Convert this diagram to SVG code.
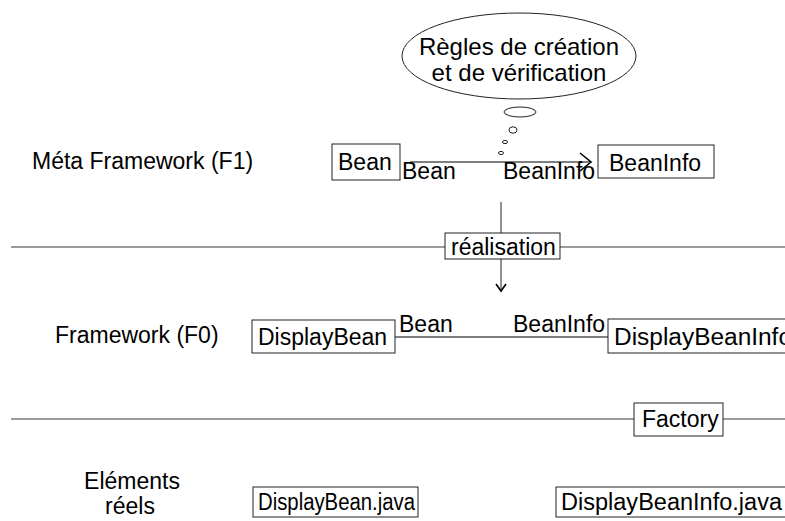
<svg xmlns="http://www.w3.org/2000/svg" width="785" height="521" viewBox="0 0 785 521">
<style>
text{font-family:"Liberation Sans",Arial,sans-serif;fill:#000;}
.t{font-size:23px;}
.b{font-size:24px;}
.box{fill:#fff;stroke:#222;stroke-width:1;}
.sep{stroke:#7a7a7a;stroke-width:1.6;fill:none;}
.con{stroke:#555;stroke-width:1.3;fill:none;}
.bub{fill:#fff;stroke:#222;stroke-width:1;}
.head{stroke:#000;stroke-width:1.6;fill:none;}
</style>
<rect width="785" height="521" fill="#fff"/>
<g id="separators">
<line class="sep" x1="11" y1="247" x2="785" y2="247"/>
<line class="sep" x1="11" y1="419" x2="785" y2="419"/>
</g>
<g id="connectors">
<line class="con" x1="410" y1="162" x2="591" y2="162"/>
<polyline class="head" points="580,153 591,162 580,171"/>
<line class="con" x1="501" y1="202" x2="501" y2="233"/>
<line class="con" x1="501" y1="259" x2="501" y2="290"/>
<polyline class="head" points="496,284 501,291 506,284"/>
<line class="con" x1="395" y1="337" x2="608" y2="337"/>
<text class="t" x="402" y="179">Bean</text>
<text class="t" x="503" y="179">BeanInfo</text>
<text class="t" x="399" y="332">Bean</text>
<text class="t" x="513" y="332">BeanInfo</text>
</g>
<g id="thought">
<ellipse class="bub" cx="519" cy="56" rx="117" ry="43"/>
<text class="b" x="519" y="55" text-anchor="middle">Règles de création</text>
<text class="b" x="519" y="81" text-anchor="middle">et de vérification</text>
<ellipse class="bub" cx="520" cy="112" rx="16" ry="5"/>
<ellipse class="bub" cx="513" cy="130" rx="4" ry="3.2"/>
<ellipse class="bub" cx="505" cy="142" rx="2.5" ry="1.6"/>
<ellipse class="bub" cx="501" cy="153" rx="2.5" ry="1.6"/>
</g>
<g id="label-f1"><text class="t" x="32" y="169">Méta Framework (F1)</text></g>
<g id="label-f0"><text class="t" x="55" y="343">Framework (F0)</text></g>
<g id="label-reels">
<text class="t" x="132" y="489" text-anchor="middle">Eléments</text>
<text class="t" x="130" y="514" text-anchor="middle">réels</text>
</g>
<g id="bean"><rect class="box" x="332" y="144" width="68" height="36"/><text class="t" x="338" y="170">Bean</text></g>
<g id="beaninfo"><rect class="box" x="598" y="145" width="116" height="33"/><text class="t" x="609" y="171">BeanInfo</text></g>
<g id="realisation"><rect class="box" x="445" y="233" width="115" height="26"/><text class="t" x="451" y="255">réalisation</text></g>
<g id="displaybean"><rect class="box" x="252" y="320" width="143" height="33"/><text class="t" x="258" y="345">DisplayBean</text></g>
<g id="displaybeaninfo"><rect class="box" x="608" y="319" width="190" height="34"/><text class="t" x="614" y="345" textLength="178" lengthAdjust="spacingAndGlyphs">DisplayBeanInfo</text></g>
<g id="factory"><rect class="box" x="634" y="403" width="89" height="33"/><text class="t" x="642" y="427">Factory</text></g>
<g id="displaybeanjava"><rect class="box" x="253" y="487" width="165" height="30"/><text class="t" x="258" y="510" textLength="157" lengthAdjust="spacingAndGlyphs">DisplayBean.java</text></g>
<g id="displaybeaninfojava"><rect class="box" x="556" y="487" width="240" height="30"/><text class="t" x="561" y="510" textLength="221" lengthAdjust="spacingAndGlyphs">DisplayBeanInfo.java</text></g>
</svg>
